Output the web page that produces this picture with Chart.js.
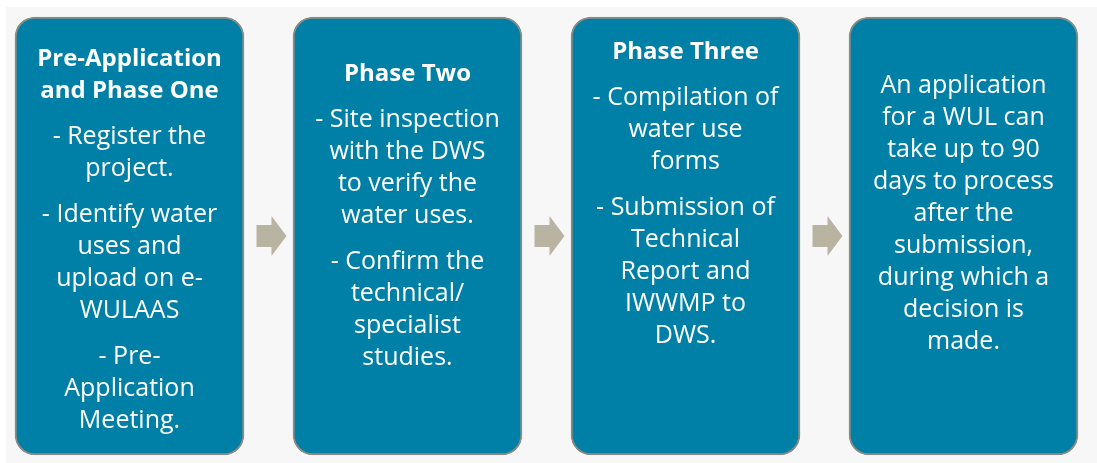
<!DOCTYPE html>
<html>
<head>
<meta charset="utf-8">
<script src="https://cdn.jsdelivr.net/npm/chart.js@4/dist/chart.umd.min.js"></script>
<style>
  html, body { margin: 0; padding: 0; background: #ffffff; overflow: hidden; }
  .chart-container { position: relative; width: 1097px; height: 463px; }
</style>
</head>
<body>
<div class="chart-container"><canvas id="flow"></canvas></div>
<script>
// one box per phase
const phases = ['Pre-Application and Phase One', 'Phase Two', 'Phase Three', 'Decision'];
const boxSpan = [[0, 1], [0, 1], [0, 1], [0, 1]];

// text inside the boxes, '' marks a paragraph break
const headings = [
  ['Pre-Application', 'and Phase One'],
  ['Phase Two'],
  ['Phase Three'],
  []
];
const bodies = [
  ['- Register the', 'project.', '', '- Identify water', 'uses and', 'upload on e-', 'WULAAS', '', '- Pre-', 'Application', 'Meeting.'],
  ['- Site inspection', 'with the DWS', 'to verify the', 'water uses.', '', '- Confirm the', 'technical/', 'specialist', 'studies.'],
  ['- Compilation of', 'water use', 'forms', '', '- Submission of', 'Technical', 'Report and', 'IWWMP to', 'DWS.'],
  ['An application', 'for a WUL can', 'take up to 90', 'days to process', 'after the', 'submission,', 'during which a', 'decision is', 'made.']
];

// layout
const firstLineY = [57, 72, 50, 84];
const lineH = 32;
const paraGap = 14;

const backdrop = {
  id: 'backdrop',
  beforeDraw(chart) {
    const ctx = chart.ctx;
    ctx.save();
    ctx.fillStyle = '#f7f7f7';
    ctx.fillRect(6, 7, chart.width - 6, chart.height - 7);
    ctx.restore();
  }
};

const arrows = {
  id: 'arrows',
  afterDatasetsDraw(chart) {
    const ctx = chart.ctx;
    const bars = chart.getDatasetMeta(0).data;
    const yc = (chart.chartArea.top + chart.chartArea.bottom) / 2;
    ctx.save();
    ctx.fillStyle = '#b9b4a1';
    for (let i = 0; i < bars.length - 1; i++) {
      const mid = (bars[i].x + bars[i].width / 2 + bars[i + 1].x - bars[i + 1].width / 2) / 2 + 3;
      const x0 = mid - 15, x1 = mid + 15, xh = mid;
      ctx.beginPath();
      ctx.moveTo(x0, yc - 11);
      ctx.lineTo(xh, yc - 11);
      ctx.lineTo(xh, yc - 20);
      ctx.lineTo(x1, yc);
      ctx.lineTo(xh, yc + 20);
      ctx.lineTo(xh, yc + 11);
      ctx.lineTo(x0, yc + 11);
      ctx.closePath();
      ctx.fill();
    }
    ctx.restore();
  }
};

const boxText = {
  id: 'boxText',
  afterDatasetsDraw(chart) {
    const ctx = chart.ctx;
    const bars = chart.getDatasetMeta(0).data;
    ctx.save();
    ctx.fillStyle = '#ffffff';
    ctx.textAlign = 'center';
    ctx.textBaseline = 'alphabetic';
    bars.forEach((bar, i) => {
      let y = firstLineY[i];
      ctx.font = 'bold 24px "Open Sans"';
      headings[i].forEach(line => {
        ctx.fillText(line, bar.x, y + 8.5);
        y += lineH;
      });
      if (headings[i].length) y += paraGap;
      ctx.font = '25px "Open Sans"';
      bodies[i].forEach(line => {
        if (line === '') { y += paraGap; return; }
        ctx.fillText(line, bar.x, y + 8.5);
        y += lineH;
      });
    });
    ctx.restore();
  }
};

new Chart(document.getElementById('flow'), {
  type: 'bar',
  data: {
    labels: phases,
    datasets: [{
      data: boxSpan,
      backgroundColor: '#0080a6',
      borderColor: '#8d8c84',
      borderWidth: 2,
      borderRadius: 20,
      borderSkipped: false,
      barThickness: 229,
      clip: false
    }]
  },
  options: {
    responsive: true,
    maintainAspectRatio: false,
    animation: false,
    layout: { padding: { left: 129.5, right: 133.5, top: 17, bottom: 8 } },
    plugins: { legend: { display: false }, tooltip: { enabled: false } },
    scales: {
      x: { display: false, offset: false, grid: { display: false } },
      y: { display: false, min: 0, max: 1 }
    }
  },
  plugins: [backdrop, arrows, boxText]
});
</script>
</body>
</html>
